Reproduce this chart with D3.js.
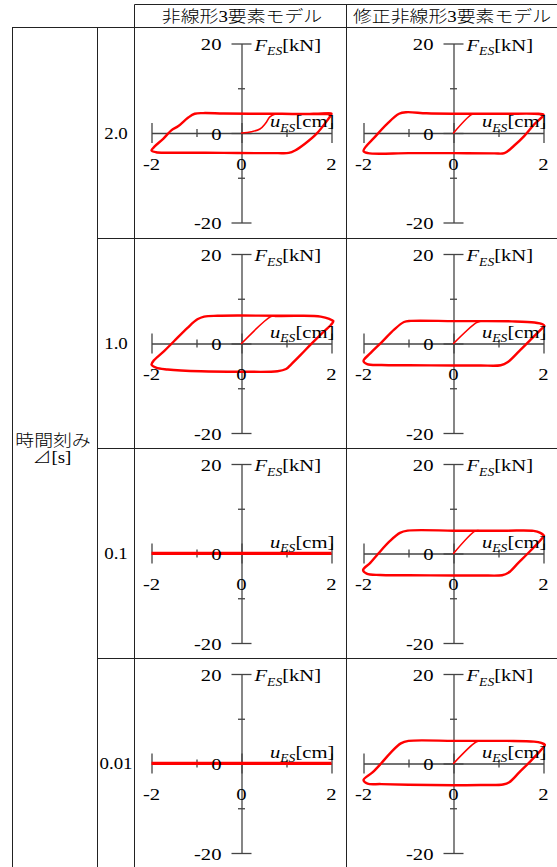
<!DOCTYPE html>
<html>
<head>
<meta charset="utf-8">
<script src="https://cdn.jsdelivr.net/npm/d3@7"></script>
<style>
  html, body { margin: 0; padding: 0; background: #fff; }
  svg { display: block; }
</style>
</head>
<body>
<svg id="chart" width="557" height="867"></svg>
<script>
// Column headings (model) and row headings (time step Δ)
const modelNames = ["非線形3要素モデル", "修正非線形3要素モデル"];
const timeSteps = ["2.0", "1.0", "0.1", "0.01"];

// Axis ticks and labelled values
const uTicks = [-2, -1, 0, 1, 2];
const fTicks = [-20, -10, 0, 10, 20];
const uLabelValues = [-2, 0, 2];
const fLabelValues = [20, 0, -20];

// Hysteresis curves, points are [u_ES (cm), F_ES (kN)]
// Δ = 2.0 s, nonlinear 3-element model
const nl20Init = [[0, 0], [0.22, 0.3], [0.41, 0.9], [0.53, 2.1], [0.63, 3.6], [0.74, 4.2], [0.9, 4.3]];
const nl20Loop = [[0.9, 4.3], [1.3, 4.25], [1.6, 4.3], [1.85, 4.35], [2.0, 4.3], [1.98, 3.9], [1.89, 2.6],
  [1.67, -0.15], [1.41, -2.4], [1.19, -3.9], [1.05, -4.45], [0.8, -4.5], [0.3, -4.5], [-0.4, -4.45],
  [-1.0, -4.4], [-1.6, -4.4], [-1.9, -4.3], [-2.0, -3.9], [-1.93, -3.0], [-1.74, -1.3], [-1.56, 0.6],
  [-1.41, 1.5], [-1.19, 3.4], [-1.04, 4.3], [-0.85, 4.45], [-0.4, 4.35], [0.2, 4.3], [0.9, 4.3],
  [1.5, 4.25], [2.0, 4.3]];

// Δ = 2.0 s, modified nonlinear 3-element model
const md20Init = [[0, 0], [0.4, 4.1], [0.5, 4.3]];
const md20Loop = [[0.5, 4.3], [1.2, 4.3], [1.8, 4.3], [2.0, 4.1], [1.79, 1.9], [1.57, -0.7], [1.35, -2.8],
  [1.13, -4.5], [0.9, -4.55], [0, -4.5], [-1.0, -4.5], [-1.9, -4.5], [-2.0, -4.0], [-1.73, -0.7],
  [-1.47, 2.1], [-1.21, 4.3], [-1.05, 4.65], [-0.6, 4.4], [0, 4.3], [0.5, 4.3], [1.2, 4.3], [1.8, 4.3],
  [2.0, 4.1]];

// Δ = 1.0 s, nonlinear 3-element model
const nl10Init = [[0, 0], [0.65, 6.0], [0.75, 6.15]];
const nl10Loop = [[0.75, 6.15], [1.3, 6.2], [1.76, 6.0], [1.95, 5.5], [2.04, 5.0], [1.99, 4.2], [1.76, 2.0],
  [1.54, -0.2], [1.32, -2.5], [1.1, -4.7], [0.99, -5.7], [0.8, -6.2], [0, -6.3], [-0.9, -6.2],
  [-1.64, -5.8], [-1.9, -5.4], [-2.0, -4.7], [-1.94, -3.7], [-1.72, -1.7], [-1.5, 0.5], [-1.2, 3.5],
  [-0.98, 5.4], [-0.83, 6.0], [-0.53, 6.2], [0, 6.25], [0.75, 6.2], [1.3, 6.2], [1.76, 6.0],
  [1.95, 5.5], [2.04, 5.0]];

// Δ = 1.0 s, modified nonlinear 3-element model
const md10Init = [[0, 0], [0.5, 4.6], [0.6, 5.0]];
const md10Loop = [[0.6, 5.0], [1.3, 4.95], [1.8, 4.7], [1.98, 4.3], [2.02, 3.9], [1.98, 3.5], [1.72, 0.9],
  [1.46, -1.7], [1.2, -4.2], [1.05, -4.85], [0.6, -4.9], [0, -4.9], [-1.0, -4.85], [-1.6, -4.8],
  [-1.92, -4.6], [-2.0, -3.9], [-1.84, -2.1], [-1.61, 0.15], [-1.32, 3.1], [-1.1, 4.8], [-0.95, 5.05],
  [0, 5.0], [0.6, 5.0], [1.3, 4.95], [1.8, 4.7], [1.98, 4.3], [2.02, 3.9]];

// Δ = 0.1 s
const nl01Init = [];
const nl01Loop = [[-2.0, 0.05], [2.0, 0.05]];
const md01Init = [[0, 0], [0.48, 5.0], [0.58, 5.1]];
const md01Loop = [[0.58, 5.1], [1.2, 5.1], [1.78, 5.05], [1.93, 4.6], [2.01, 4.0], [1.96, 3.3], [1.7, 0.5],
  [1.44, -2.1], [1.22, -4.3], [1.08, -4.85], [0.6, -4.9], [0, -4.9], [-1.0, -4.85], [-1.63, -4.8],
  [-1.93, -4.5], [-2.01, -3.7], [-1.85, -2.1], [-1.67, 0], [-1.41, 2.8], [-1.19, 4.6], [-1.02, 5.1],
  [0, 5.1], [0.58, 5.1], [1.2, 5.1], [1.78, 5.05], [1.93, 4.6], [2.01, 4.0]];

// Δ = 0.01 s
const nl001Init = [];
const nl001Loop = [[-2.0, 0.05], [2.0, 0.05]];
const md001Init = [[0, 0], [0.5, 4.8], [0.6, 5.05]];
const md001Loop = [[0.6, 5.05], [1.2, 5.05], [1.79, 4.9], [1.95, 4.6], [2.03, 4.2], [1.98, 3.4], [1.72, 0.6],
  [1.46, -2.0], [1.24, -4.2], [1.1, -4.7], [0.6, -4.8], [0, -4.85], [-1.0, -4.75], [-1.61, -4.6],
  [-1.91, -4.5], [-2.0, -3.7], [-1.8, -2.0], [-1.61, 0], [-1.39, 2.5], [-1.17, 4.5], [-1.0, 5.05],
  [0, 5.05], [0.6, 5.05], [1.2, 5.05], [1.79, 4.9], [1.95, 4.6], [2.03, 4.2]];

const panels = [
  { row: 0, col: 0, init: nl20Init, loop: nl20Loop, flat: false },
  { row: 0, col: 1, init: md20Init, loop: md20Loop, flat: false },
  { row: 1, col: 0, init: nl10Init, loop: nl10Loop, flat: false },
  { row: 1, col: 1, init: md10Init, loop: md10Loop, flat: false },
  { row: 2, col: 0, init: nl01Init, loop: nl01Loop, flat: true },
  { row: 2, col: 1, init: md01Init, loop: md01Loop, flat: false },
  { row: 3, col: 0, init: nl001Init, loop: nl001Loop, flat: true },
  { row: 3, col: 1, init: md001Init, loop: md001Loop, flat: false }
];

// ---- layout ----
const W = 557, H = 867;
const FONT = "'Liberation Serif','Times New Roman','Noto Sans CJK JP',serif";
const SX = 1.18;              // horizontal text stretch
const colLeft = [135, 347];
const rowTop = [27.5, 238, 448, 658];
const RED = "#ff0000";
const AXIS = "#444";

const svg = d3.select("#chart");
svg.append("rect").attr("width", W).attr("height", H).attr("fill", "#fff");

function label(parent, x, y, anchor, size, parts, weight) {
  const t = parent.append("text")
    .attr("transform", `translate(${x},${y}) scale(${SX},1)`)
    .attr("text-anchor", anchor)
    .attr("font-family", FONT)
    .attr("font-size", size)
    .attr("fill", "#000");
  if (weight) t.attr("font-weight", weight);
  parts.forEach(p => {
    const s = t.append("tspan").text(p.text);
    if (p.italic) s.attr("font-style", "italic");
    if (p.size) s.attr("font-size", p.size);
    if (p.dy) s.attr("dy", p.dy);
  });
  return t;
}

// ---- table grid ----
const grid = svg.append("g").attr("stroke", "#222").attr("stroke-width", 1).attr("fill", "none");
const hLine = (x1, x2, y) => grid.append("line").attr("x1", x1).attr("x2", x2).attr("y1", y).attr("y2", y);
const vLine = (x, y1, y2) => grid.append("line").attr("x1", x).attr("x2", x).attr("y1", y1).attr("y2", y2);
hLine(134.5, W, 4.5);
hLine(12, W, 27.5);
[238.5, 448.5, 658.5].forEach(y => hLine(97, W, y));
vLine(12.5, 27.5, H);
vLine(97.5, 27.5, H);
vLine(134.5, 4.5, H);
vLine(346.5, 4.5, H);

// ---- headings ----
label(svg, 242, 22, "middle", 16, [{ text: modelNames[0] }], 300);
label(svg, 452, 22, "middle", 16, [{ text: modelNames[1] }], 300);
label(svg, 53, 446, "middle", 16, [{ text: "時間刻み" }], 300);
label(svg, 52, 463, "middle", 16, [{ text: "⊿[s]" }], 300);

// ---- panels ----
const line = d3.line().curve(d3.curveCatmullRom.alpha(0.5));

panels.forEach(p => {
  const cx = colLeft[p.col];
  const y0 = rowTop[p.row] + 105.5;
  const x = d3.scaleLinear().domain([-2, 2]).range([cx + 16.5, cx + 196.5]);
  const y = d3.scaleLinear().domain([-20, 20]).range([y0 + 89.5, y0 - 89.5]);
  const g = svg.append("g");

  // horizontal axis: crossing ticks, longer at ends and centre
  const gx = g.append("g")
    .attr("transform", `translate(0,${y(0)})`)
    .attr("color", AXIS)
    .call(d3.axisBottom(x).tickValues(uTicks).tickFormat("").tickSizeInner(0).tickSizeOuter(0));
  gx.select(".domain").attr("stroke-width", 1.3);
  gx.selectAll(".tick line")
    .attr("stroke-width", 1.3)
    .attr("y1", d => (Math.abs(d) === 2 || d === 0) ? -10 : -4)
    .attr("y2", d => (Math.abs(d) === 2 || d === 0) ? 10 : 4);

  // vertical axis
  const gy = g.append("g")
    .attr("transform", `translate(${x(0)},0)`)
    .attr("color", AXIS)
    .call(d3.axisLeft(y).tickValues(fTicks).tickFormat("").tickSizeInner(0).tickSizeOuter(0));
  gy.select(".domain").attr("stroke-width", 1.3);
  gy.selectAll(".tick line")
    .attr("stroke-width", 1.3)
    .attr("x1", d => (Math.abs(d) === 20 || d === 0) ? -10 : -3.5)
    .attr("x2", d => (Math.abs(d) === 20 || d === 0) ? 10 : 3.5);

  // curves
  if (p.flat) {
    g.append("path").datum(p.loop)
      .attr("d", d3.line().x(d => x(d[0])).y(d => y(d[1])))
      .attr("fill", "none").attr("stroke", RED).attr("stroke-width", 3.2);
  } else {
    const l = line.x(d => x(d[0])).y(d => y(d[1]));
    g.append("path").datum(p.loop).attr("d", l)
      .attr("fill", "none").attr("stroke", RED).attr("stroke-width", 2.4)
      .attr("stroke-linejoin", "round").attr("stroke-linecap", "round");
    g.append("path").datum(p.init).attr("d", l)
      .attr("fill", "none").attr("stroke", RED).attr("stroke-width", 1.6)
      .attr("stroke-linejoin", "round").attr("stroke-linecap", "round");
  }

  // tick labels
  fLabelValues.forEach(v => label(g, x(0) - 20, y(v) + 6.8, "end", 17.5, [{ text: String(v) }]));
  uLabelValues.forEach(v => label(g, x(v), y(0) + 36.5, "middle", 17.5, [{ text: String(v) }]));

  // axis titles
  label(g, x(0) + 13, y(20) + 7, "start", 17.5, [
    { text: "F", italic: true },
    { text: "ES", italic: true, size: 11.5, dy: 4.5 },
    { text: "[kN]", dy: -4.5 }
  ]);
  label(g, x(0) + 28.5, y(0) - 6, "start", 17.5, [
    { text: "u", italic: true },
    { text: "ES", italic: true, size: 11.5, dy: 4.5 },
    { text: "[cm]", dy: -4.5 }
  ]);

  // row heading (time step)
  if (p.col === 0) label(svg, 116, y0 + 5.5, "middle", 16, [{ text: timeSteps[p.row] }]);
});
</script>
</body>
</html>
